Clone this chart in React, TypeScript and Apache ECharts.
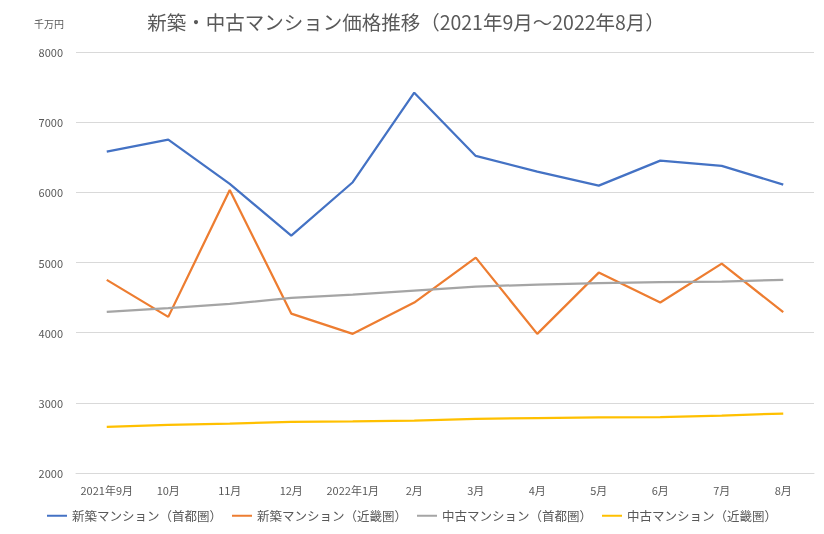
import React, { useEffect, useRef } from "react";
import * as echarts from "echarts";

const categories = ["2021年9月", "10月", "11月", "12月", "2022年1月", "2月", "3月", "4月", "5月", "6月", "7月", "8月"];
const seriesNames = ["新築マンション（首都圏）", "新築マンション（近畿圏）", "中古マンション（首都圏）", "中古マンション（近畿圏）"];
const newTokyo = [6580, 6750, 6120, 5383, 6144, 7420, 6519, 6295, 6096, 6452, 6376, 6110];
const newKinki = [4752, 4225, 6034, 4272, 3983, 4429, 5070, 3983, 4856, 4429, 4984, 4292];
const usedTokyo = [4296, 4349, 4410, 4496, 4543, 4600, 4657, 4685, 4705, 4719, 4728, 4752];
const usedKinki = [2658, 2687, 2705, 2729, 2734, 2748, 2772, 2782, 2791, 2796, 2819, 2847];
const colors = ["#4472C4", "#ED7D31", "#A5A5A5", "#FFC000"];

const FONT = "'Noto Sans CJK JP', 'Noto Sans', sans-serif";

export default function App() {
  const ref = useRef<HTMLDivElement>(null);
  useEffect(() => {
    if (!ref.current) return;
    const chart = echarts.init(ref.current, undefined, { renderer: "svg" });
    const data = [newTokyo, newKinki, usedTokyo, usedKinki];
    chart.setOption({
      animation: false,
      textStyle: { fontFamily: FONT },
      color: colors,
      title: [
        {
          text: "新築・中古マンション価格推移（2021年9月～2022年8月）",
          left: 401,
          textAlign: "center",
          top: 7,
          textStyle: { fontFamily: FONT, fontSize: 19.5, fontWeight: "normal", color: "#595959" },
        },
        {
          text: "千万円",
          left: 29,
          top: 13,
          textStyle: { fontFamily: FONT, fontSize: 10, fontWeight: "normal", color: "#595959" },
        },
      ],
      legend: {
        bottom: 7,
        left: "center",
        icon: "rect",
        itemWidth: 20,
        itemHeight: 2,
        itemGap: 10,
        textStyle: { fontFamily: FONT, fontSize: 12.5, color: "#595959" },
        data: seriesNames,
      },
      grid: { left: 76, right: 10, top: 52, bottom: 61 },
      xAxis: {
        type: "category",
        data: categories,
        boundaryGap: true,
        axisLine: { lineStyle: { color: "#D9D9D9" } },
        axisTick: { show: false },
        axisLabel: { color: "#595959", fontSize: 11, margin: 11, interval: 0, fontFamily: FONT },
      },
      yAxis: {
        type: "value",
        min: 2000,
        max: 8000,
        interval: 1000,
        axisLine: { show: false },
        axisTick: { show: false },
        axisLabel: { color: "#595959", fontSize: 11, margin: 13, fontFamily: FONT, formatter: (v: number) => String(v) },
        splitLine: { lineStyle: { color: "#D9D9D9" } },
      },
      series: seriesNames.map((name, i) => ({
        name,
        type: "line",
        data: data[i],
        showSymbol: false,
        symbol: "none",
        lineStyle: { width: 2.25, color: colors[i] },
        itemStyle: { color: colors[i] },
      })),
    });
    return () => chart.dispose();
  }, []);
  return <div ref={ref} style={{ position: "fixed", left: 0, top: 0, width: 824, height: 534 }} />;
}
